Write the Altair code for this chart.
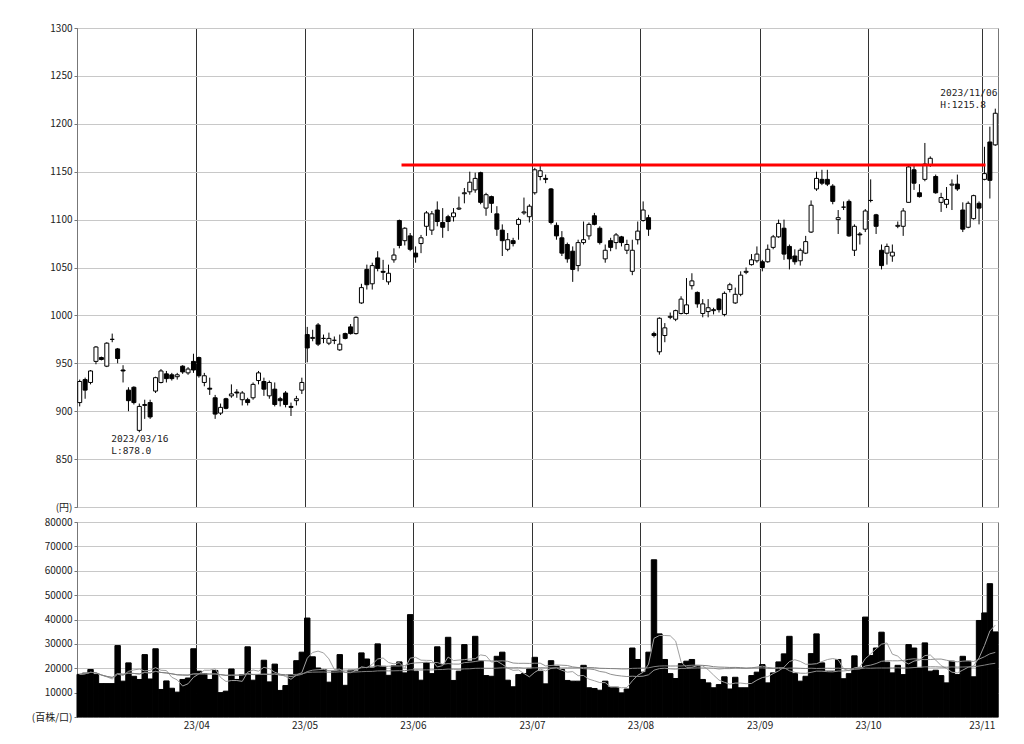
import altair as alt
import pandas as pd

# ---- daily OHLC (trading-day order, 2023/03/01 .. 2023/11/06) ----
open_ = [909, 933, 930, 952, 956, 947, 975, 965, 943, 922, 925, 880, 906, 909, 921, 930, 939, 938, 936, 947, 940, 952,
         956, 930, 924, 914, 898, 913, 916, 920, 912, 912, 914, 932, 931, 916, 923, 913, 919, 905, 911, 922,
         980, 976, 990, 976, 971, 974, 964, 981, 988, 981, 1013, 1048, 1033, 1060, 1046, 1035, 1058, 1099, 1078, 1083,
         1065, 1075, 1093, 1089, 1110, 1097, 1103, 1103, 1111, 1127, 1129, 1131, 1149, 1112, 1124, 1106, 1089, 1069, 1078, 1095, 1107, 1103,
         1128, 1145, 1143, 1132, 1094, 1081, 1074, 1067, 1052, 1076, 1083, 1104, 1091, 1059, 1078, 1076, 1082, 1068, 1046, 1079,
         1099, 1102, 981, 962, 979, 998, 996, 1002, 1002, 1031, 1024, 1002, 1004, 1005, 1017, 1001, 1027, 1013, 1022, 1045, 1053, 1057,
         1056, 1056, 1071, 1082, 1091, 1072, 1062, 1057, 1065, 1087, 1132, 1142, 1142, 1135, 1100, 1113, 1119, 1068, 1085, 1090,
         1120, 1105, 1068, 1065, 1062, 1093, 1093, 1118, 1152, 1128, 1142, 1157, 1145, 1118, 1116, 1136, 1137, 1110, 1092, 1101, 1117,
         1142, 1181, 1178]
high = [933, 935, 943, 968, 957, 972, 981, 966, 948, 925, 926, 908, 912, 912, 936, 944, 942, 940, 940, 948, 946, 960,
        957, 940, 935, 917, 908, 914, 928, 923, 921, 914, 930, 942, 935, 932, 930, 915, 921, 909, 916, 935,
        988, 985, 992, 980, 982, 978, 980, 982, 991, 999, 1033, 1053, 1055, 1067, 1058, 1053, 1070, 1100, 1092, 1086,
        1072, 1084, 1109, 1109, 1119, 1112, 1105, 1112, 1124, 1133, 1150, 1149, 1150, 1128, 1125, 1114, 1095, 1086, 1081, 1102, 1123, 1116,
        1154, 1156, 1147, 1133, 1097, 1088, 1076, 1072, 1079, 1098, 1097, 1107, 1093, 1074, 1081, 1086, 1083, 1079, 1079, 1098,
        1119, 1105, 983, 998, 992, 1003, 1006, 1020, 1039, 1044, 1025, 1017, 1017, 1008, 1018, 1025, 1034, 1029, 1046, 1050, 1064, 1072,
        1058, 1074, 1084, 1100, 1100, 1074, 1069, 1070, 1083, 1120, 1150, 1152, 1152, 1137, 1110, 1119, 1121, 1095, 1087, 1111,
        1142, 1106, 1074, 1075, 1074, 1098, 1112, 1157, 1156, 1137, 1180, 1166, 1147, 1128, 1134, 1142, 1147, 1118, 1119, 1126, 1119,
        1176, 1197, 1215.8]
low = [905, 913, 928, 949, 953, 946, 972, 950, 930, 900, 907, 878, 892, 892, 919, 929, 930, 932, 933, 939, 938, 940,
       935, 926, 917, 892, 896, 902, 914, 914, 906, 906, 912, 928, 916, 913, 905, 905, 904, 895, 906, 918,
       951, 973, 968, 971, 969, 970, 963, 975, 980, 980, 1012, 1027, 1027, 1046, 1037, 1032, 1055, 1070, 1073, 1067,
       1055, 1065, 1083, 1084, 1093, 1081, 1088, 1098, 1110, 1117, 1126, 1128, 1116, 1104, 1107, 1083, 1062, 1067, 1072, 1079, 1105, 1097,
       1126, 1141, 1138, 1095, 1079, 1062, 1055, 1035, 1046, 1074, 1079, 1094, 1074, 1055, 1067, 1069, 1072, 1064, 1042, 1074,
       1098, 1083, 977, 959, 972, 996, 994, 1001, 1001, 1027, 1008, 998, 998, 1001, 1003, 999, 1024, 1012, 1020, 1043, 1052, 1055,
       1046, 1055, 1069, 1081, 1058, 1048, 1053, 1052, 1064, 1086, 1130, 1136, 1135, 1116, 1085, 1110, 1082, 1062, 1074, 1087,
       1118, 1085, 1048, 1053, 1056, 1091, 1083, 1118, 1131, 1123, 1140, 1155, 1127, 1108, 1112, 1110, 1130, 1087, 1091, 1100, 1095,
       1141, 1122, 1177]
close = [931, 922, 942, 967, 954, 971, 975, 955, 942, 911, 909, 905, 907, 894, 935, 942, 934, 934, 938, 941, 944, 943,
         937, 937, 923, 897, 904, 903, 918, 919, 919, 909, 928, 940, 923, 930, 907, 911, 907, 904, 913, 930,
         966, 977, 970, 976, 976, 974, 970, 976, 981, 998, 1029, 1032, 1052, 1049, 1045, 1044, 1063, 1073, 1091, 1069,
         1061, 1081, 1107, 1106, 1098, 1092, 1098, 1107, 1112, 1128, 1139, 1143, 1118, 1126, 1117, 1090, 1078, 1079, 1075, 1100, 1108, 1114,
         1152, 1151, 1142, 1097, 1083, 1065, 1059, 1048, 1076, 1079, 1095, 1095, 1076, 1068, 1071, 1084, 1076, 1074, 1068, 1088,
         1110, 1090, 979, 997, 987, 999, 1005, 1017, 1011, 1036, 1012, 1012, 1008, 1006, 1006, 1023, 1032, 1022, 1042, 1046, 1058, 1064,
         1050, 1069, 1082, 1096, 1064, 1059, 1056, 1068, 1077, 1115, 1143, 1138, 1137, 1119, 1102, 1113, 1083, 1093, 1084, 1109,
         1120, 1093, 1052, 1072, 1066, 1094, 1109, 1155, 1138, 1124, 1158, 1164, 1128, 1123, 1121, 1137, 1132, 1090, 1117, 1125, 1112,
         1148, 1141, 1211]
# ---- volume (百株) ----
volume = [17500, 18000, 19500, 17500, 13700, 13700, 13700, 29300, 14700, 22200, 16700, 15400, 25600, 15600, 28000, 11300,
          14800, 11800, 10200, 15400, 16000, 28000,
          18800, 17800, 15400, 19100, 10000, 10600, 19700, 15400, 17400, 28800, 15100, 17400, 23300, 14400, 21700, 10900,
          12900, 17400, 23100, 26600,
          40600, 24700, 20100, 19500, 14300, 18800, 25600, 13000, 19200, 18800, 26300, 23800, 20100, 30000, 20800, 17100,
          21000, 22600, 18100, 42000,
          18800, 15100, 22200, 17800, 28800, 21500, 32700, 15000, 18800, 29700, 22900, 33100, 22900, 17000, 16700, 24900,
          26600, 15100, 12400, 17400, 17800, 19700,
          24500, 18800, 13600, 23100, 20800, 19500, 15000, 14700, 14700, 21200, 12000, 11700, 11000, 14700, 12200, 12200,
          9900, 11500, 28300, 23600,
          18400, 26600, 64500, 34100, 23600, 17800, 15800, 21900, 22900, 23600, 21000, 15400, 14000, 12000, 13300, 16500,
          11500, 16300, 12000, 12000, 17000, 18400,
          21500, 14000, 18100, 22600, 25900, 33100, 17800, 14700, 16700, 26000, 34100, 22200, 18800, 18800, 23600, 15700,
          17800, 25100, 20100, 41000,
          25200, 28300, 34800, 22500, 18100, 21200, 17400, 29700, 28300, 20100, 30400, 18800, 19200, 17000, 14000, 22900,
          17400, 24900, 22900, 16500, 39600,
          42700, 54700, 34900]

month_start_idx = [22, 42, 62, 84, 104, 126, 146, 167]
month_labels = ["23/04", "23/05", "23/06", "23/07", "23/08", "23/09", "23/10", "23/11"]
price_ticks = list(range(800, 1301, 50))
volume_ticks = list(range(0, 80001, 10000))

resistance = pd.DataFrame({"level": [1157], "start": [59.4], "end": [167.2]})
ann_low = pd.DataFrame({"i": [11], "p": [878.0], "t": ["2023/03/16\nL:878.0"]})
ann_high = pd.DataFrame({"i": [169], "p": [1215.8], "t": ["2023/11/06\nH:1215.8"]})

n = len(close)
df = pd.DataFrame({"i": list(range(n)), "open": open_, "high": high, "low": low,
                   "close": close, "volume": volume})

FONT = "Noto Sans CJK JP"
MONO = "DejaVu Sans Mono"
W = 921
bounds = [m - 0.5 for m in month_start_idx]
xscale = alt.Scale(domain=[-0.5, n - 0.5], nice=False, zero=False, padding=0)
pscale = alt.Scale(domain=[800, 1300], nice=False, zero=False, padding=0)
vscale = alt.Scale(domain=[0, 80000], nice=False, padding=0)

x_top_axis = alt.Axis(values=bounds, labels=False, ticks=False, domain=False, grid=True,
                      gridColor="#333333", gridOpacity=1, title=None)
label_expr = " : ".join(f"datum.value == {b} ? '{l}'" for b, l in zip(bounds, month_labels)) + " : ''"
x_vol_axis = alt.Axis(values=bounds, labelExpr=label_expr, ticks=False, domain=False, grid=True,
                      gridColor="#333333", gridOpacity=1, title=None, labelPadding=3)
y_price_axis = alt.Axis(values=price_ticks, labelExpr="datum.value == 800 ? '(円)' : datum.label",
                        grid=True, gridColor="#c8c8c8", tickSize=3, title=None, format="d")
y_vol_axis = alt.Axis(values=volume_ticks, labelExpr="datum.value == 0 ? '(百株/口)' : datum.label",
                      grid=True, gridColor="#c8c8c8", tickSize=3, title=None, format="d",
                      labelOverlap=False)

X_TOP = alt.X("i:Q", scale=xscale, axis=x_top_axis)
Y_P = lambda f: alt.Y(f, scale=pscale, axis=y_price_axis)

base = alt.Chart(df)
wick = base.mark_rule(color="black", strokeWidth=1).encode(
    x=X_TOP, y=Y_P("low:Q"), y2="high:Q",
)
body = base.mark_bar(size=4, stroke="black", strokeWidth=1).encode(
    x=X_TOP,
    y=Y_P("open:Q"),
    y2="close:Q",
    fill=alt.condition("datum.close > datum.open", alt.value("white"), alt.value("black")),
)
red = alt.Chart(resistance).mark_rule(color="#ff0000", strokeWidth=3).encode(
    x=alt.X("start:Q", scale=xscale, axis=x_top_axis), x2="end:Q", y=Y_P("level:Q")
)
t_low = alt.Chart(ann_low).mark_text(font=MONO, fontSize=9.5, align="left", baseline="top",
                                     lineBreak="\n", lineHeight=12, dx=-28, dy=2, color="#222").encode(
    x=X_TOP, y=Y_P("p:Q"), text="t:N")
t_high = alt.Chart(ann_high).mark_text(font=MONO, fontSize=9.5, align="left", baseline="top",
                                       lineBreak="\n", lineHeight=12, dx=-55, dy=-21, color="#222").encode(
    x=X_TOP, y=Y_P("p:Q"), text="t:N")

top = alt.layer(wick, body, red, t_low, t_high).properties(width=W, height=479)

X_V = lambda f: alt.X(f, scale=xscale, axis=x_vol_axis)
Y_V = lambda f: alt.Y(f, scale=vscale, axis=y_vol_axis)

vbase = alt.Chart(df)
vbars = vbase.transform_calculate(x0="datum.i - 0.5", x1="datum.i + 0.5", z="0").mark_bar(
    color="black", stroke="black", strokeWidth=1).encode(
    x=X_V("x0:Q"),
    x2="x1:Q",
    y=Y_V("volume:Q"),
    y2="z:Q",
)
ma_lines = []
for win, col in [(5, "#a0a0a0"), (25, "#909090"), (75, "#808080")]:
    ma_lines.append(
        vbase.transform_window(ma="mean(volume)", frame=[-(win - 1), 0], sort=[alt.SortField("i")])
        .mark_line(color=col, strokeWidth=1)
        .encode(x=X_V("i:Q"), y=Y_V("ma:Q"))
    )
vol = alt.layer(vbars, *ma_lines).properties(width=W, height=195)

chart = alt.vconcat(top, vol, spacing=3).properties(
    padding={"left": 22, "top": 14, "right": 5, "bottom": 5}
).configure_view(stroke="#777777").configure_axis(
    labelFont=FONT, labelFontSize=10, labelColor="#222222", tickColor="#777777", domainColor="#777777"
)

chart.save("out.html", embed_options={"renderer": "svg", "actions": False})
